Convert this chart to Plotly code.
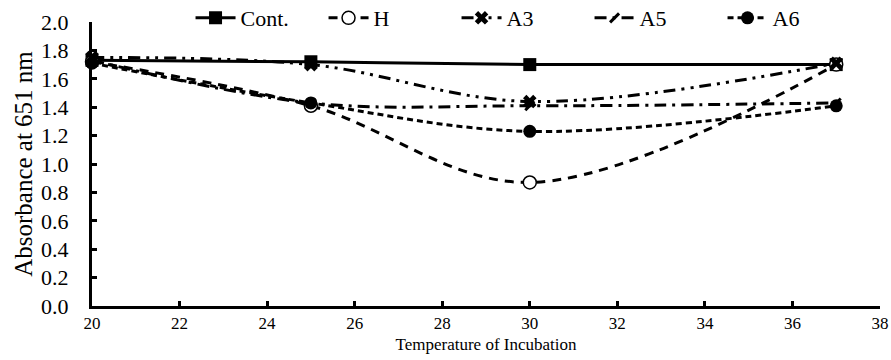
import plotly.graph_objects as go

temps = [20, 25, 30, 37]
cont = [1.73, 1.72, 1.70, 1.70]
h_vals = [1.72, 1.41, 0.87, 1.70]
a3 = [1.75, 1.70, 1.44, 1.71]
a5 = [1.73, 1.43, 1.41, 1.43]
a6 = [1.71, 1.43, 1.23, 1.41]
x_ticks = list(range(20, 39, 2))
y_ticks = [i / 10 for i in range(0, 21, 2)]

series = [
    ("Cont.", cont, "solid", dict(symbol="square", size=13, color="black")),
    ("H", h_vals, "9px,7px", dict(symbol="circle", size=13, color="white", line=dict(width=1.5, color="black"))),
    ("A3", a3, "12px,6px,3px,6px,3px,6px", dict(symbol="x", size=12, color="black", line=dict(width=0))),
    ("A5", a5, "12px,6px,3px,6px", dict(symbol="line-ne", size=9, color="black", line=dict(width=3, color="black"))),
    ("A6", a6, "6px,4px", dict(symbol="circle", size=13, color="black")),
]

font = "Liberation Serif"

fig = go.Figure()
for name, ys, dash, mk in series:
    fig.add_trace(go.Scatter(
        x=temps, y=ys, name=name, mode="lines+markers",
        line=dict(color="black", width=3, dash=dash, shape="spline", smoothing=1.0),
        marker=mk, cliponaxis=False,
    ))

fig.update_layout(
    width=891, height=360,
    margin=dict(l=92, r=11, t=22, b=54, autoexpand=False),
    paper_bgcolor="white", plot_bgcolor="white",
    font=dict(family=font, color="black", size=18),
    showlegend=True,
    legend=dict(orientation="h", x=0.547, xanchor="center", y=1.014, yanchor="middle",
                bgcolor="rgba(0,0,0,0)", font=dict(family=font, size=22, color="black"),
                itemwidth=40, entrywidth=78, entrywidthmode="pixels", tracegroupgap=0),
    xaxis=dict(range=[20, 38], tickmode="array", tickvals=x_ticks,
               showgrid=False, zeroline=False, showline=True, linecolor="black", linewidth=3,
               ticks="inside", ticklen=5, tickwidth=3, tickcolor="black",
               tickfont=dict(family=font, size=17, color="black"),
               title=dict(text="Temperature of Incubation",
                          font=dict(family=font, size=17, color="black"), standoff=6)),
    yaxis=dict(range=[0, 2.0], tickmode="array", tickvals=y_ticks,
               tickformat=".1f", showgrid=False, zeroline=False, showline=True,
               linecolor="black", linewidth=3, ticks="inside", ticklen=5, tickwidth=3,
               tickcolor="black", tickfont=dict(family=font, size=22, color="black"),
               ticklabelstandoff=16,
               title=dict(text="Absorbance at 651 nm",
                          font=dict(family=font, size=25, color="black"), standoff=2)),
)

fig.write_html("out.html")
